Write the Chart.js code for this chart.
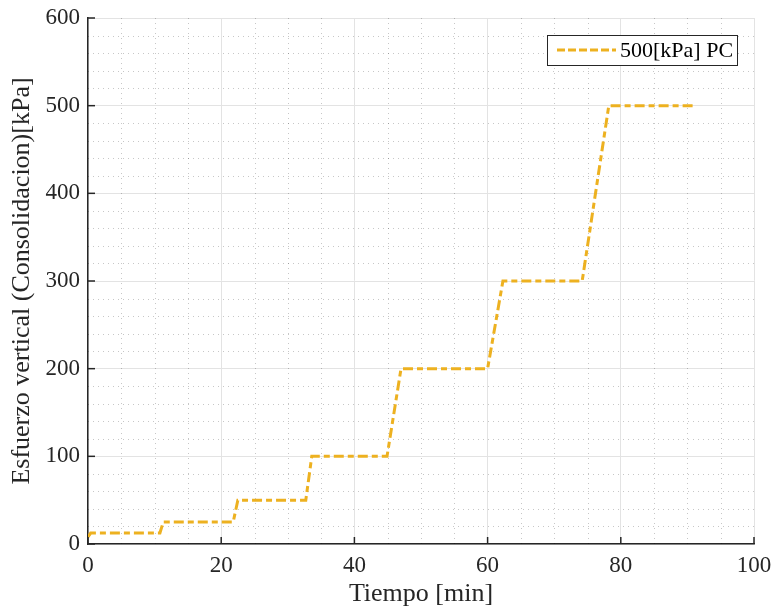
<!DOCTYPE html>
<html>
<head>
<meta charset="utf-8">
<script src="https://cdn.jsdelivr.net/npm/chart.js@4/dist/chart.umd.min.js"></script>
<style>
  html, body { margin: 0; padding: 0; background: #fff; }
  canvas { display: block; }
</style>
</head>
<body>
<canvas id="grafico" width="774" height="611"></canvas>
<script>
// ensayo de consolidacion: escalones de carga hasta 500 kPa
const tiempo = [0, 0.4, 10.8, 11.3, 21.8, 22.5, 32.7, 33.6, 44.9, 47.0, 60.0, 62.3, 74.2, 78.2, 91.3];
const esfuerzo = [8, 12.5, 12.5, 25, 25, 50, 50, 100, 100, 200, 200, 300, 300, 500, 500];
const etiqueta = '500[kPa] PC';

const xTicks = [0, 20, 40, 60, 80, 100];
const yTicks = [0, 100, 200, 300, 400, 500, 600];

const FUENTE = '"Liberation Serif", "DejaVu Serif", serif';
const NEGRO = '#262626';
const AMARILLO = '#EDB120';
const GUION = [10, 4, 6, 4];

const puntos = tiempo.map((t, i) => ({ x: t, y: esfuerzo[i] }));

// rejilla menor punteada + marcas hacia dentro + leyenda con recuadro
const extras = {
  id: 'extras',
  beforeDatasetsDraw(chart) {
    const { ctx, chartArea: a, scales: { x, y } } = chart;
    ctx.save();
    ctx.strokeStyle = 'rgba(0,0,0,0.22)';
    ctx.lineWidth = 1;
    ctx.setLineDash([1, 4]);
    for (let v = 5; v < 100; v += 5) {
      if (v % 20 === 0) continue;
      const px = Math.round(x.getPixelForValue(v)) + 0.5;
      ctx.beginPath(); ctx.moveTo(px, a.top); ctx.lineTo(px, a.bottom); ctx.stroke();
    }
    for (let v = 20; v < 600; v += 20) {
      if (v % 100 === 0) continue;
      const py = Math.round(y.getPixelForValue(v)) + 0.5;
      ctx.beginPath(); ctx.moveTo(a.left, py); ctx.lineTo(a.right, py); ctx.stroke();
    }
    ctx.restore();
  },
  afterDatasetsDraw(chart) {
    const { ctx, chartArea: a, scales: { x, y } } = chart;
    ctx.save();
    ctx.strokeStyle = NEGRO;
    ctx.lineWidth = 1.5;
    ctx.setLineDash([]);
    xTicks.forEach(v => {
      const px = x.getPixelForValue(v);
      ctx.beginPath(); ctx.moveTo(px, a.bottom); ctx.lineTo(px, a.bottom - 7); ctx.stroke();
    });
    yTicks.forEach(v => {
      const py = y.getPixelForValue(v);
      ctx.beginPath(); ctx.moveTo(a.left, py); ctx.lineTo(a.left + 7, py); ctx.stroke();
    });

    // leyenda
    const bx = 547, by = 35, bw = 190, bh = 30;
    ctx.fillStyle = '#fff';
    ctx.fillRect(bx, by, bw, bh);
    ctx.lineWidth = 1;
    ctx.strokeStyle = NEGRO;
    ctx.strokeRect(bx + 0.5, by + 0.5, bw, bh);
    ctx.strokeStyle = AMARILLO;
    ctx.lineWidth = 3;
    ctx.setLineDash([8, 3]);
    ctx.beginPath(); ctx.moveTo(557, by + bh / 2); ctx.lineTo(616, by + bh / 2); ctx.stroke();
    ctx.setLineDash([]);
    ctx.fillStyle = '#000';
    ctx.font = '22px ' + FUENTE;
    ctx.textBaseline = 'middle';
    ctx.fillText(chart.data.datasets[0].label, 620, by + bh / 2 + 1);
    ctx.restore();
  }
};

new Chart(document.getElementById('grafico'), {
  type: 'scatter',
  data: {
    datasets: [{
      label: etiqueta,
      data: puntos,
      showLine: true,
      borderColor: AMARILLO,
      borderWidth: 3,
      borderDash: GUION,
      pointRadius: 0,
      fill: false
    }]
  },
  options: {
    responsive: false,
    devicePixelRatio: 1,
    animation: false,
    layout: { padding: { top: 18, right: 20, left: 0, bottom: 0 } },
    plugins: { legend: { display: false }, tooltip: { enabled: false } },
    scales: {
      x: {
        type: 'linear',
        min: 0, max: 100,
        afterFit(s) { s.height = 67; s.paddingLeft = 0; s.paddingRight = 0; },
        afterBuildTicks(s) { s.ticks = xTicks.map(v => ({ value: v })); },
        grid: { color: '#e3e3e3', lineWidth: 1, drawTicks: false },
        border: { color: NEGRO, width: 1.5 },
        ticks: { color: NEGRO, padding: 8, maxRotation: 0, font: { family: FUENTE, size: 23 } },
        title: { display: true, text: 'Tiempo [min]', color: NEGRO, padding: { top: 0, bottom: 1 }, font: { family: FUENTE, size: 26 } }
      },
      y: {
        type: 'linear',
        min: 0, max: 600,
        afterFit(s) { s.width = 88; s.paddingTop = 0; s.paddingBottom = 0; },
        afterBuildTicks(s) { s.ticks = yTicks.map(v => ({ value: v })); },
        grid: { color: '#e3e3e3', lineWidth: 1, drawTicks: false },
        border: { color: NEGRO, width: 1.5 },
        ticks: { color: NEGRO, padding: 8, font: { family: FUENTE, size: 23 } },
        title: { display: true, text: 'Esfuerzo vertical (Consolidacion)[kPa]', color: NEGRO, padding: { top: 7, bottom: 0 }, font: { family: FUENTE, size: 26 } }
      }
    }
  },
  plugins: [extras]
});
</script>
</body>
</html>
